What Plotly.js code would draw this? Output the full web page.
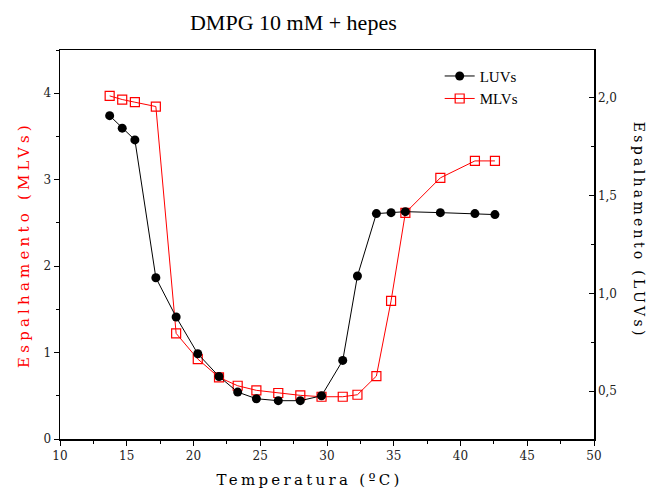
<!DOCTYPE html>
<html>
<head>
<meta charset="utf-8">
<script src="https://cdn.plot.ly/plotly-3.0.1.min.js"></script>
<style>html,body{margin:0;padding:0;background:#fff;}#chart{width:650px;height:489px;}</style>
</head>
<body>
<div id="chart"></div>
<script>
// Temperature (°C)
const tempLUV = [13.72, 14.66, 15.61, 17.18, 18.70, 20.32, 21.91, 23.31, 24.71, 26.35, 28.0, 29.59, 31.18, 32.28, 33.70, 34.80, 35.87, 38.49, 41.08, 42.58];
const espLUV  = [1.909, 1.845, 1.785, 1.080, 0.879, 0.691, 0.575, 0.495, 0.461, 0.451, 0.451, 0.476, 0.657, 1.089, 1.408, 1.413, 1.418, 1.413, 1.408, 1.403];
const tempMLV = [13.72, 14.66, 15.61, 17.18, 18.70, 20.32, 21.91, 23.31, 24.71, 26.35, 28.0, 29.59, 31.18, 32.28, 33.70, 34.80, 35.87, 38.49, 41.08, 42.58];
const espMLV  = [3.969, 3.927, 3.896, 3.846, 1.222, 0.925, 0.713, 0.616, 0.563, 0.532, 0.505, 0.489, 0.489, 0.512, 0.728, 1.599, 2.616, 3.021, 3.217, 3.217];
const seriesNames = ["LUVs", "MLVs"];
const titleText = "DMPG 10 mM + hepes";
const xTitle = "Temperatura (ºC)";
const yLeftTitle = "Espalhamento (MLVs)";
const yRightTitle = "Espalhamento (LUVs)";

const serif = "DejaVu Serif, serif";
const traces = [
  {x: tempLUV, y: espLUV, name: seriesNames[0], yaxis: "y2", type: "scatter", mode: "lines+markers",
   line: {color: "#000", width: 1}, marker: {symbol: "circle", size: 9, color: "#000"}},
  {x: tempMLV, y: espMLV, name: seriesNames[1], yaxis: "y", type: "scatter", mode: "lines+markers",
   line: {color: "#ff0000", width: 1}, marker: {symbol: "square-open", size: 9, color: "#ff0000", line: {width: 1.2}}}
];
const layout = {
  width: 650, height: 489,
  margin: {l: 60, r: 56, t: 50, b: 50},
  paper_bgcolor: "#fff", plot_bgcolor: "#fff",
  separators: ", ",
  showlegend: true,
  title: {text: titleText, font: {family: "Liberation Serif, serif", size: 22, color: "#000"},
          x: 0.437, xref: "paper", xanchor: "center", y: 0.955, yanchor: "middle"},
  xaxis: {range: [10, 50], dtick: 5, tick0: 10, ticks: "outside", ticklen: 5, tickcolor: "#000",
          showline: true, linecolor: "#000", linewidth: 1.5, mirror: true, showgrid: false, zeroline: false,
          minor: {dtick: 2.5, ticks: "outside", ticklen: 3, tickcolor: "#000", showgrid: false},
          tickfont: {family: serif, size: 12, color: "#222"}},
  yaxis: {range: [0, 4.5], dtick: 1, tick0: 0, ticks: "outside", ticklen: 5, tickcolor: "#000",
          showline: true, linecolor: "#000", linewidth: 1.5, showgrid: false, zeroline: false,
          minor: {dtick: 0.5, ticks: "outside", ticklen: 3, tickcolor: "#000", showgrid: false},
          tickfont: {family: serif, size: 12, color: "#222"},
          title: {text: yLeftTitle, font: {family: serif, size: 15, color: "#ff0000"}, standoff: 10}},
  yaxis2: {overlaying: "y", side: "right", range: [0.255, 2.245], dtick: 0.5, tick0: 0, tickformat: ".1f",
           ticks: "inside", ticklen: 5, tickcolor: "#000", showline: true, linecolor: "#000", linewidth: 1.5,
           showgrid: false, zeroline: false,
           minor: {dtick: 0.25, ticks: "inside", ticklen: 3, tickcolor: "#000", showgrid: false},
           tickfont: {family: serif, size: 12, color: "#222"}},
  legend: {x: 0.711, y: 0.975, xanchor: "left", yanchor: "top", bgcolor: "rgba(0,0,0,0)", borderwidth: 0,
           font: {family: "Liberation Serif, serif", size: 15, color: "#000"}, tracegroupgap: 0},
  annotations: [
    {text: yRightTitle, xref: "paper", yref: "paper", x: 1, y: 0.537, xshift: 45, xanchor: "center", yanchor: "middle",
     textangle: 90, showarrow: false, font: {family: serif, size: 14, color: "#000"}},
    {text: xTitle, xref: "paper", yref: "paper", x: 0.468, y: 0, yshift: -41, xanchor: "center", yanchor: "middle",
     showarrow: false, font: {family: serif, size: 15, color: "#000"}}
  ]
};
Plotly.newPlot("chart", traces, layout, {displayModeBar: false, staticPlot: true}).then(function(gd){
  function spread(){
    gd.querySelectorAll(".g-ytitle text").forEach(function(t){ t.style.letterSpacing = "4.2px"; });
    gd.querySelectorAll(".annotation-text").forEach(function(t){ t.style.letterSpacing = "3.3px"; });
  }
  spread();
  gd.on && gd.on("plotly_afterplot", spread);
});
</script>
</body>
</html>
